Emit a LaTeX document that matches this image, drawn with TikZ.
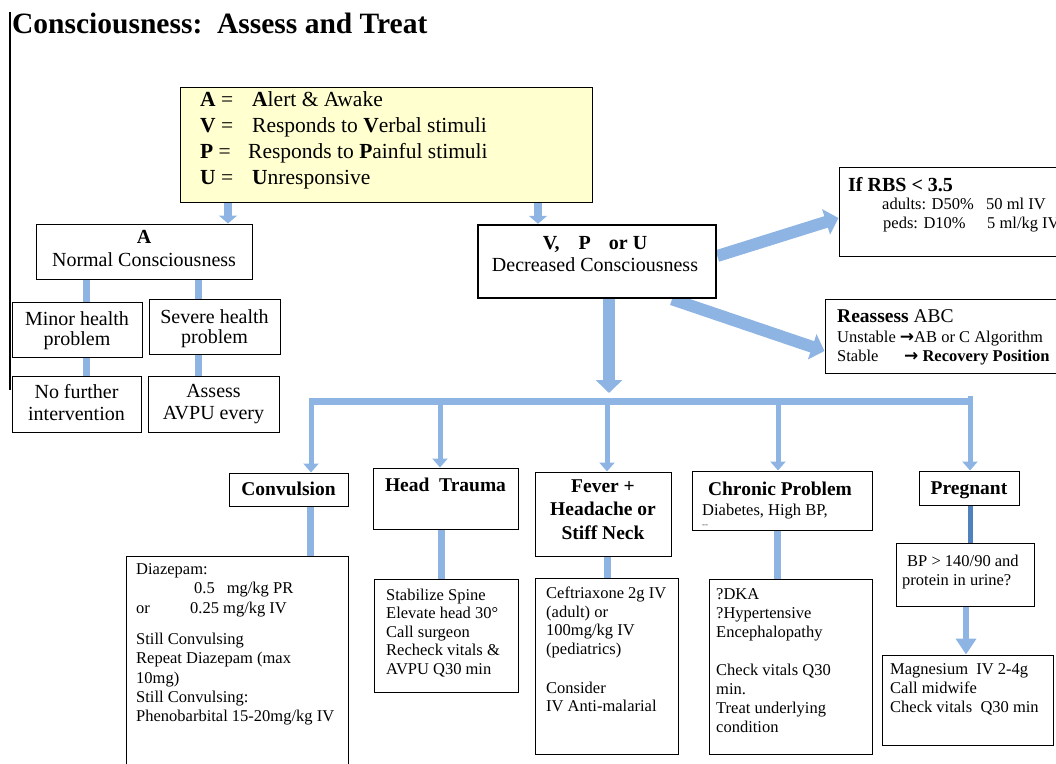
\documentclass[tikz,border=0pt]{standalone}
\usepackage{fontspec}
\setmainfont{Liberation Serif}
\newfontfamily\symf{DejaVu Sans}
\usetikzlibrary{arrows.meta,fit}
\pgfdeclarelayer{bg}
\pgfsetlayers{bg,main}
\definecolor{lblue}{RGB}{141,180,226}
\definecolor{dblue}{RGB}{79,129,189}
\definecolor{yel}{RGB}{255,255,208}
\tikzset{
  box/.style={draw=black, line width=1pt, inner sep=0pt, fill=white},
  conn/.style={draw=lblue, line width=7pt},
  bigarr/.style={draw=lblue, line width=12pt, -{Triangle[width=26pt,length=13pt]}},
  midarr/.style={draw=lblue, line width=5pt, -{Triangle[width=15pt,length=9pt]}},
  toparr/.style={draw=lblue, line width=8pt, -{Triangle[width=18pt,length=8pt]}},
  tA/.style={inner sep=0pt, align=left, anchor=north west},
  tB/.style={inner sep=0pt, align=center, anchor=north, font=\fontsize{20}{21}\selectfont},
  hd/.style={inner sep=0pt, anchor=base, font=\fontsize{19.5}{23.5}\selectfont\bfseries},
}
\newcommand{\rarr}{{\symf\bfseries\fontsize{17}{17}\selectfont→}}
\begin{document}
\begin{tikzpicture}[x=1pt,y=-1pt]
\useasboundingbox (0,0) rectangle (1056,763);
\clip (0,0) rectangle (1056,763);

% title and side line
\node[anchor=base west, inner sep=0pt, font=\fontsize{29.5}{32}\selectfont\bfseries] (title) at (12,33) {Consciousness:\ \ Assess and Treat};
\coordinate (lt) at (10,12);
\coordinate (lb) at (10,390);
\draw[line width=1.2pt] (lt) -- (lb);

% AVPU
\node[box, fill=yel, fit={(180,87) (592,202)}] (avpu) {};
\node[tA, font=\fontsize{21.5}{26}\selectfont] (avput) at (200,91) {%
\makebox[52pt][l]{\textbf{A} =}\textbf{A}lert \& Awake\\
\makebox[52pt][l]{\textbf{V} =}Responds to \textbf{V}erbal stimuli\\
\makebox[48pt][l]{\textbf{P} =}Responds to \textbf{P}ainful stimuli\\
\makebox[52pt][l]{\textbf{U} =}\textbf{U}nresponsive};

% Normal branch
\node[box, fit={(36,224) (252,279)}] (normal) {};
\node[tB, font=\fontsize{20}{23}\selectfont] (normalt) at (144,230) {\textbf{A}\\Normal Consciousness};
\node[box, fit={(12,302) (142,357)}] (minor) {};
\node[tB, font=\fontsize{20}{20.5}\selectfont] (minort) at (77,311) {Minor health\\problem};
\node[box, fit={(149,299) (280,354)}] (severe) {};
\node[tB, font=\fontsize{20}{20.5}\selectfont] (severet) at (214.5,309) {Severe health\\problem};
\node[box, fit={(12,376) (141,432)}] (nofur) {};
\node[tB, font=\fontsize{20}{22}\selectfont] (nofurt) at (76.5,384) {No further\\intervention};
\node[box, fit={(148,376) (279,432)}] (assess) {};
\node[tB, font=\fontsize{20}{22}\selectfont] (assesst) at (213.5,384) {Assess\\AVPU every};

% Decreased consciousness
\node[box, line width=2.5pt, fit={(478,225) (716,298)}] (vpu) {};
\node[tB, font=\fontsize{20}{22}\selectfont] (vput) at (595,236) {\textbf{V,\hspace{19pt}P\hspace{18pt}or U}\\Decreased Consciousness};

% RBS
\node[box, fit={(839,167) (1070,256)}] (rbs) {};
\node[anchor=base west, inner sep=0pt, font=\fontsize{20}{22}\selectfont\bfseries] (rbs1) at (848,191) {If RBS < 3.5};
\node[anchor=base west, inner sep=0pt, font=\fontsize{16.5}{19}\selectfont] (rbs2) at (882,209) {\makebox[104pt][l]{adults: D50\%}50 ml IV};
\node[anchor=base west, inner sep=0pt, font=\fontsize{16.5}{19}\selectfont] (rbs3) at (883,228) {\makebox[104pt][l]{peds: D10\%}5 ml/kg IV};

% Reassess
\node[box, fit={(825,299) (1070,373)}] (reas) {};
\node[anchor=base west, inner sep=0pt, font=\fontsize{19.5}{22}\selectfont] (reas1) at (837,322) {\textbf{Reassess} ABC};
\node[anchor=base west, inner sep=0pt, font=\fontsize{16.5}{19}\selectfont] (reas2) at (837,342) {Unstable \rarr AB or C Algorithm};
\node[anchor=base west, inner sep=0pt, font=\fontsize{16.5}{19}\selectfont] (reas3) at (837,361) {\makebox[67pt][l]{Stable}\rarr\ \textbf{Recovery Position}};

% headings row
\node[box, fit={(229,473) (348,506)}] (conv) {};
\node[hd] (convt) at (288.5,495) {Convulsion};
\node[box, fit={(373,468) (518,529)}] (head) {};
\node[hd] (headt) at (445.5,491) {Head\ \ Trauma};
\node[box, fit={(535,472) (671,556)}] (fever) {};
\node[inner sep=0pt, align=center, anchor=north, font=\fontsize{19.5}{23.5}\selectfont\bfseries] (fevert) at (603,479.5) {Fever +\\Headache or\\Stiff Neck};
\node[box, fit={(692,471) (872,530)}] (chron) {};
\node[hd] (chront) at (780,495) {Chronic Problem};
\node[anchor=base west, inner sep=0pt, font=\fontsize{16.5}{19}\selectfont] (chront2) at (702,515) {Diabetes, High BP,};
\node[anchor=base west, inner sep=0pt, font=\fontsize{9}{10}\selectfont, text=black!70] (chront3) at (702,527) {-{}-};
\node[box, fit={(919,471) (1019,505)}] (preg) {};
\node[hd] (pregt) at (969,494) {Pregnant};

% detail boxes
\node[box, fit={(126,556) (348,790)}] (convd) {};
\node[tA, font=\fontsize{16.5}{19.3}\selectfont] (convdt) at (136,563.5) {Diazepam:\\
\hspace*{58pt}0.5\hspace{12pt}mg/kg PR\\
\makebox[54pt][l]{or}0.25 mg/kg IV\\[12pt]
Still Convulsing\\
Repeat Diazepam (max\\
10mg)\\
Still Convulsing:\\
Phenobarbital 15-20mg/kg IV};

\node[box, fit={(374,579) (518,692)}] (headd) {};
\node[tA, font=\fontsize{16.5}{18.6}\selectfont] (headdt) at (386,588.5) {Stabilize Spine\\Elevate head 30°\\Call surgeon\\Recheck vitals \&\\AVPU Q30 min};

\node[box, fit={(535,578) (678,754)}] (feverd) {};
\node[tA, font=\fontsize{16.5}{18.7}\selectfont] (feverdt) at (546,586.5) {Ceftriaxone 2g IV\\(adult) or\\100mg/kg IV\\(pediatrics)\\[20pt]Consider\\IV Anti-malarial};

\node[box, fit={(709,579) (872,754)}] (chrond) {};
\node[tA, font=\fontsize{16.5}{19}\selectfont] (chrondt) at (716,588.5) {?DKA\\?Hypertensive\\Encephalopathy\\[19pt]Check vitals Q30\\min.\\Treat underlying\\condition};

\node[box, fit={(896,543) (1034,606)}] (bp) {};
\node[tA, font=\fontsize{16.5}{19}\selectfont] (bpt) at (902,554.5) {\hspace*{5pt}BP > 140/90 and\\protein in urine?};

\node[box, fit={(882,655) (1053,745)}] (mag) {};
\node[tA, font=\fontsize{16.5}{19}\selectfont] (magt) at (890,663.5) {Magnesium\ \ IV 2-4g\\Call midwife\\Check vitals\ \ Q30 min};

% coordinates for connector columns
\coordinate (c86) at (86,0);
\coordinate (c198) at (198,0);
\coordinate (c228) at (228,0);
\coordinate (c538) at (538,0);
\coordinate (c609) at (609,0);
\coordinate (y256) at (0,256);
\coordinate (y218) at (0,218);
\coordinate (x672) at (672,0);
\coordinate (y351) at (0,351);
\coordinate (mtip) at (609,393);
\coordinate (barL) at (308.5,401);
\coordinate (barR) at (972.5,401);
\coordinate (v311) at (311,398);
\coordinate (v440) at (440,398);
\coordinate (v607) at (607,398);
\coordinate (v778) at (778,398);
\coordinate (v970) at (970,396);
\coordinate (c310) at (310,0);
\coordinate (c441) at (441,0);
\coordinate (c607) at (607,0);
\coordinate (c777) at (777,0);
\coordinate (c970) at (970,0);
\coordinate (c966) at (966,0);

\begin{pgfonlayer}{bg}
\draw[toparr] (avpu.south -| c228) -- (normal.north -| c228);
\draw[toparr] (avpu.south -| c538) -- (vpu.north -| c538);
\draw[conn] (normal.south -| c86) -- (minor.north -| c86);
\draw[conn] (normal.south -| c198) -- (severe.north -| c198);
\draw[conn] (minor.south -| c86) -- (nofur.north -| c86);
\draw[conn] (severe.south -| c198) -- (assess.north -| c198);
\draw[bigarr] (vpu.east |- y256) -- (rbs.west |- y218);
\draw[bigarr] (vpu.south -| x672) -- (reas.west |- y351);
\draw[bigarr] (vpu.south -| c609) -- (mtip);
\draw[conn] (barL) -- (barR);
\draw[midarr] (v311) -- (conv.north -| v311);
\draw[midarr] (v440) -- (head.north -| v440);
\draw[midarr] (v607) -- (fever.north -| v607);
\draw[midarr] (v778) -- (chron.north -| v778);
\draw[midarr] (v970) -- (preg.north -| v970);
\draw[conn] (conv.south -| c310) -- (convd.north -| c310);
\draw[conn] (head.south -| c441) -- (headd.north -| c441);
\draw[conn] (fever.south -| c607) -- (feverd.north -| c607);
\draw[conn] (chron.south -| c777) -- (chrond.north -| c777);
\draw[draw=dblue, line width=5pt] (preg.south -| c970) -- (bp.north -| c970);
\draw[draw=lblue, line width=6pt, -{Triangle[width=20pt,length=16pt]}] (bp.south -| c966) -- (mag.north -| c966);
\end{pgfonlayer}
\end{tikzpicture}
\end{document}
